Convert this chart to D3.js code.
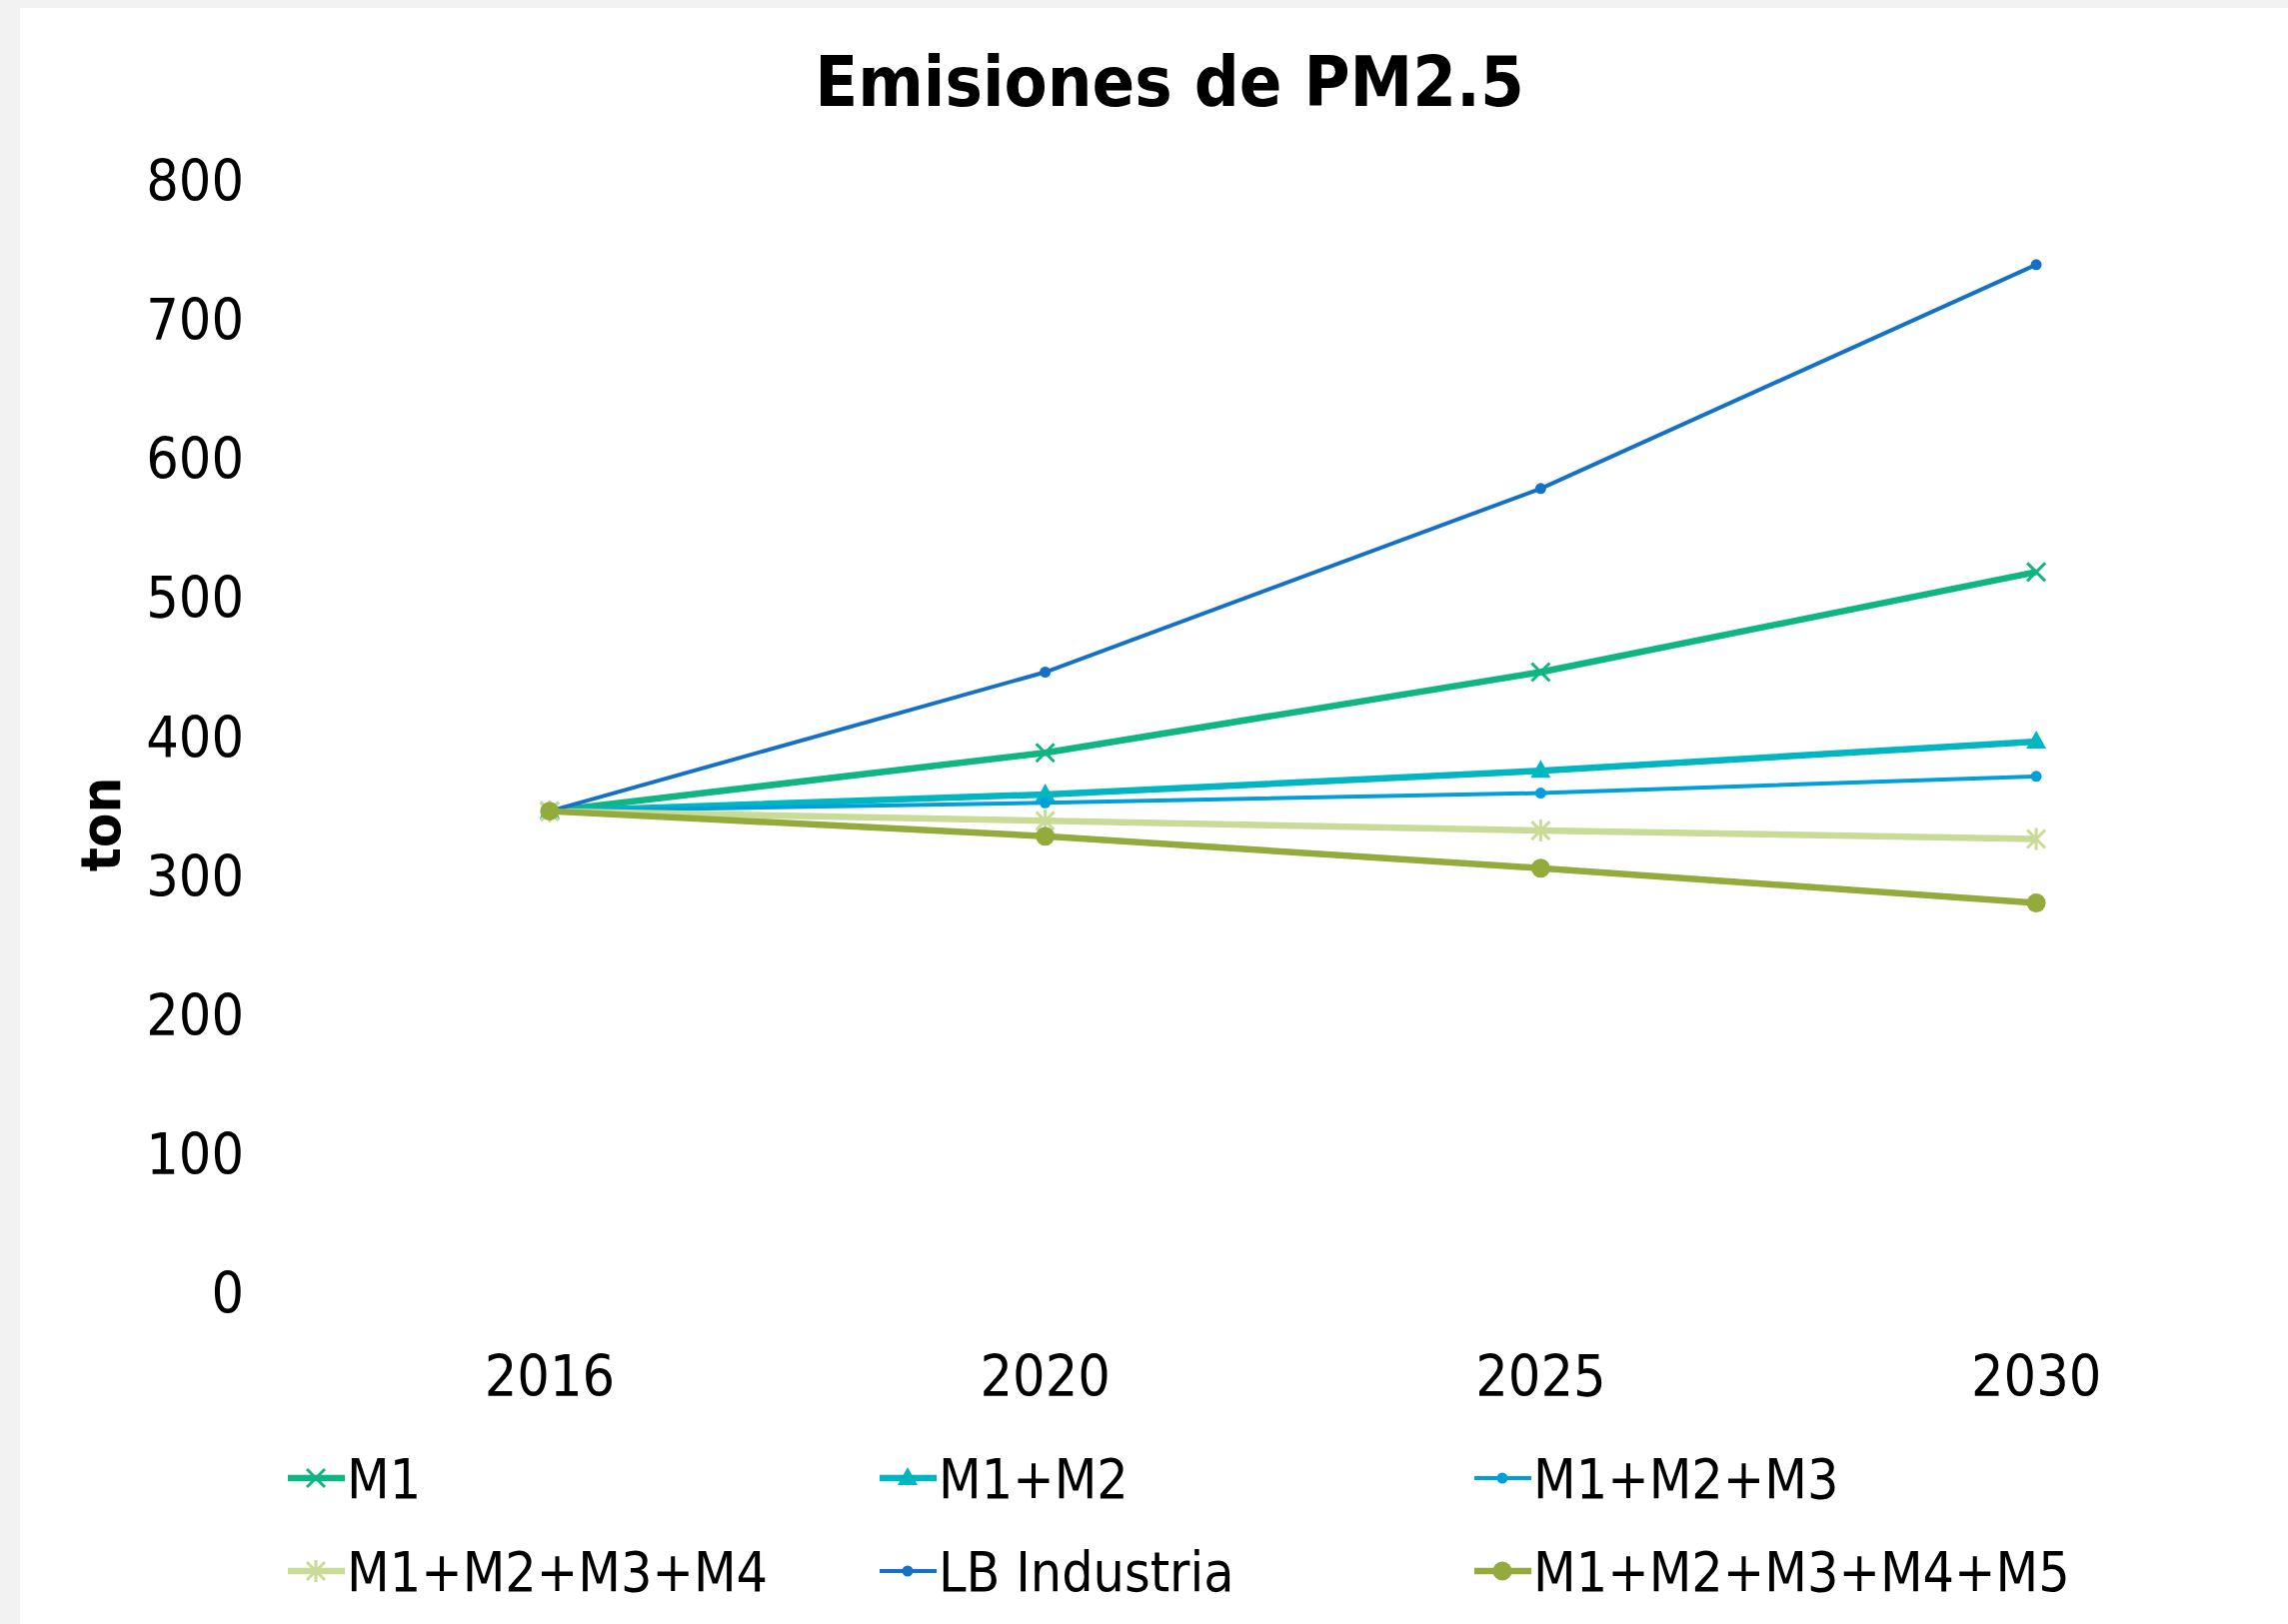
<!DOCTYPE html>
<html lang="es">
  <head>
    <meta charset="UTF-8" />
    <title>Emisiones de PM2.5</title>
    <script src="https://d3js.org/d3.v7.min.js"></script>
    <style type="text/css">
      html,
      body {
        margin: 0;
        padding: 0;
        background: #f2f2f2;
      }
      svg text {
        font-family: 'DejaVu Sans Condensed', 'DejaVu Sans', sans-serif;
        fill: #000;
      }
    </style>
  </head>
  <body>
    <div class="chart"></div>
    <script type="text/javascript">
      // datos
      const years = ['2016', '2020', '2025', '2030']
      const m1 = [346, 388, 446, 518]
      const m1m2 = [346, 358, 375, 396]
      const m1m2m3 = [346, 352, 359, 371]
      const m1m2m3m4 = [346, 339, 332, 326]
      const lbIndustria = [346, 446, 578, 739]
      const m1m2m3m4m5 = [346, 328, 305, 280]
      const yTicks = [0, 100, 200, 300, 400, 500, 600, 700, 800]

      const series = [
        { name: 'M1', values: m1, color: '#0fb582', width: 6.5, marker: 'x' },
        { name: 'M1+M2', values: m1m2, color: '#00b7c1', width: 6.5, marker: 'triangle' },
        { name: 'M1+M2+M3', values: m1m2m3, color: '#009fdc', width: 4, marker: 'dot' },
        { name: 'M1+M2+M3+M4', values: m1m2m3m4, color: '#c9dc97', width: 6.5, marker: 'star' },
        { name: 'LB Industria', values: lbIndustria, color: '#1570c8', width: 4, marker: 'dot' },
        { name: 'M1+M2+M3+M4+M5', values: m1m2m3m4m5, color: '#93ab3c', width: 6.5, marker: 'circle' }
      ]

      // lienzo
      const width = 2289
      const height = 1625
      const svg = d3.select('.chart').append('svg').attr('width', width).attr('height', height)

      svg.append('rect').attr('x', 20).attr('y', 8).attr('width', width - 20).attr('height', height - 8).attr('fill', '#ffffff')

      const x = d3.scaleBand().domain(years).range([302, 2285])
      const xc = (yr) => x(yr) + x.bandwidth() / 2
      const y = d3.scaleLinear().domain([0, 800]).range([1293, 180])

      // titulo
      svg
        .append('text')
        .attr('x', 1170)
        .attr('y', 106)
        .attr('text-anchor', 'middle')
        .style('font-size', '70px')
        .style('font-weight', 'bold')
        .text('Emisiones de PM2.5')

      // eje y
      const yAxis = svg
        .append('g')
        .attr('transform', 'translate(244,0)')
        .call(d3.axisLeft(y).tickValues(yTicks).tickSize(0).tickPadding(0))
      yAxis.select('.domain').remove()
      yAxis.selectAll('text').style('font-size', '57px').attr('dy', '0.36em').attr('fill', '#000')

      svg
        .append('text')
        .attr('transform', 'translate(120,825) rotate(-90)')
        .attr('text-anchor', 'middle')
        .style('font-size', '56px')
        .style('font-weight', 'bold')
        .text('ton')

      // eje x
      const xAxis = svg
        .append('g')
        .attr('transform', 'translate(0,1397)')
        .call(d3.axisBottom(x).tickSize(0).tickPadding(0))
      xAxis.select('.domain').remove()
      xAxis.selectAll('text').style('font-size', '57px').attr('dy', '0').attr('fill', '#000')

      // marcadores
      function markerPath(type) {
        if (type === 'x') return 'M-9,-9L9,9M-9,9L9,-9'
        if (type === 'star') return 'M-9,-9L9,9M-9,9L9,-9M0,-11L0,11'
        if (type === 'triangle') return 'M0,-11L10,7L-10,7Z'
        return null
      }

      function drawMarker(g, type, color, cx, cy) {
        if (type === 'dot') {
          g.append('circle').attr('cx', cx).attr('cy', cy).attr('r', 5.5).attr('fill', color)
        } else if (type === 'circle') {
          g.append('circle').attr('cx', cx).attr('cy', cy).attr('r', 9.5).attr('fill', color)
        } else if (type === 'triangle') {
          g.append('path')
            .attr('transform', `translate(${cx},${cy})`)
            .attr('d', markerPath(type))
            .attr('fill', color)
        } else {
          g.append('path')
            .attr('transform', `translate(${cx},${cy})`)
            .attr('d', markerPath(type))
            .attr('fill', 'none')
            .attr('stroke', color)
            .attr('stroke-width', 3)
        }
      }

      const line = d3
        .line()
        .x((d, i) => xc(years[i]))
        .y((d) => y(d))

      series.forEach((s) => {
        const g = svg.append('g')
        g.append('path')
          .attr('d', line(s.values))
          .attr('fill', 'none')
          .attr('stroke', s.color)
          .attr('stroke-width', s.width)
          .attr('stroke-linejoin', 'round')
        s.values.forEach((v, i) => drawMarker(g, s.marker, s.color, xc(years[i]), y(v)))
      })

      // leyenda
      const legendX = [288, 880, 1475]
      const legendY = [1479, 1572]
      series.forEach((s, i) => {
        const lx = legendX[i % 3]
        const ly = legendY[Math.floor(i / 3)]
        const g = svg.append('g')
        g.append('line')
          .attr('x1', lx)
          .attr('x2', lx + 57)
          .attr('y1', ly)
          .attr('y2', ly)
          .attr('stroke', s.color)
          .attr('stroke-width', s.width)
        drawMarker(g, s.marker, s.color, lx + 28, ly)
        g.append('text')
          .attr('x', lx + 59)
          .attr('y', ly)
          .attr('dy', '0.36em')
          .style('font-size', '55px')
          .text(s.name)
      })
    </script>
  </body>
</html>
